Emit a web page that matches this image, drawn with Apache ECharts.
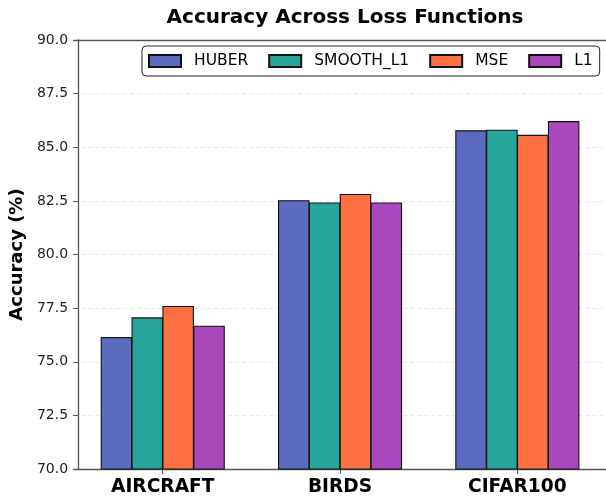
<!DOCTYPE html>
<html>
<head>
<meta charset="utf-8">
<script src="https://cdn.jsdelivr.net/npm/echarts@6/dist/echarts.min.js"></script>
<style>html,body{margin:0;padding:0;background:#fff;}#main{width:606px;height:497px;}</style>
</head>
<body>
<div id="main"></div>
<script>
const categories = ['AIRCRAFT', 'BIRDS', 'CIFAR100'];
const seriesNames = ['HUBER', 'SMOOTH_L1', 'MSE', 'L1'];
const huber = [76.15, 82.53, 85.79];
const smoothL1 = [77.07, 82.43, 85.82];
const mse = [77.60, 82.82, 85.58];
const l1 = [76.68, 82.43, 86.22];
const yTicks = [70.0, 72.5, 75.0, 77.5, 80.0, 82.5, 85.0, 87.5, 90.0];
const colors = ['#5C6BC0', '#26A69A', '#FF7043', '#AB47BC'];
const seriesValues = [huber, smoothL1, mse, l1];

const FONT = 'DejaVu Sans';
const chart = echarts.init(document.getElementById('main'), null, {renderer: 'canvas'});
const axisColor = '#555';

chart.setOption({
  animation: false,
  backgroundColor: '#fff',
  color: colors,
  title: {
    text: 'Accuracy Across Loss Functions',
    left: 340, top: 3, textAlign: 'center',
    textStyle: {fontFamily: FONT, fontWeight: 'bold', fontSize: 20, color: '#000'}
  },
  legend: {
    data: seriesNames,
    left: 142, top: 46,
    itemWidth: 32, itemHeight: 12, itemGap: 20,
    padding: [7, 7, 7, 6],
    borderColor: '#222', borderWidth: 1, borderRadius: 4,
    backgroundColor: '#fff',
    icon: 'rect',
    textStyle: {fontFamily: FONT, fontSize: 15.5, color: '#000', padding: [0, 0, 0, 8]}
  },
  grid: {left: 73, top: 40, width: 538.8, height: 429, containLabel: false},
  xAxis: [{
    type: 'category',
    data: categories,
    axisLine: {show: true, lineStyle: {color: axisColor, width: 1.3}},
    axisTick: {show: true, alignWithLabel: true, length: 5, lineStyle: {color: axisColor, width: 1}},
    axisLabel: {fontFamily: FONT, fontWeight: 'bold', fontSize: 18.6, color: '#000', margin: 9},
    splitLine: {show: false}
  }, {
    type: 'category',
    data: categories,
    position: 'top',
    axisLine: {show: true, lineStyle: {color: axisColor, width: 1.3}},
    axisTick: {show: false},
    axisLabel: {show: false},
    splitLine: {show: false}
  }],
  yAxis: {
    type: 'value',
    min: yTicks[0], max: yTicks[yTicks.length - 1], interval: 2.5,
    offset: -4,
    name: 'Accuracy (%)',
    nameLocation: 'middle',
    nameGap: 48,
    nameTextStyle: {fontFamily: FONT, fontWeight: 'bold', fontSize: 18, color: '#000'},
    axisLine: {show: true, lineStyle: {color: axisColor, width: 1.3}},
    axisTick: {show: true, length: 5, lineStyle: {color: axisColor, width: 1}},
    axisLabel: {fontFamily: FONT, fontSize: 14, color: '#222', margin: 10,
      formatter: v => v.toFixed(1)},
    splitLine: {show: true, lineStyle: {color: '#e2e2e2', type: [4, 3], width: 0.8}}
  },
  series: seriesNames.map((name, i) => ({
    name: name,
    type: 'bar',
    data: seriesValues[i],
    barWidth: 31.5,
    barGap: '-2%',
    itemStyle: {color: colors[i], borderColor: '#111', borderWidth: 1.1}
  }))
});
</script>
</body>
</html>
